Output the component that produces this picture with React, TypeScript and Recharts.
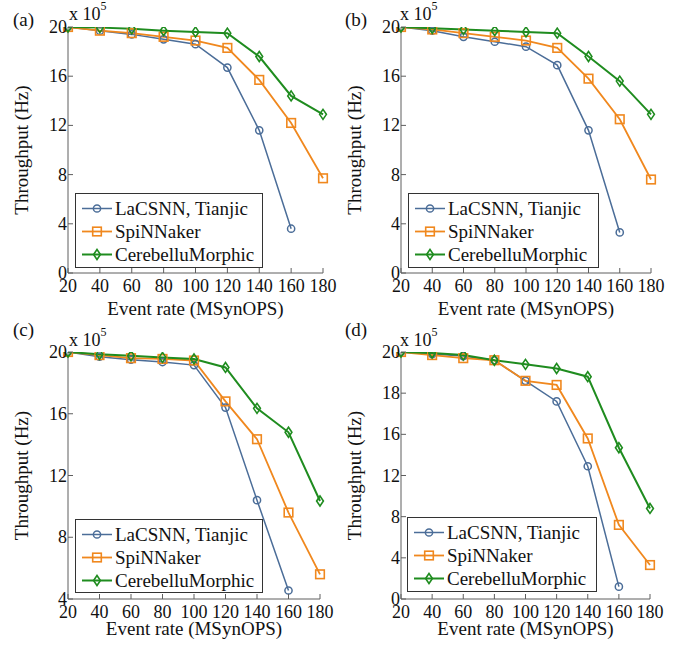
import React from 'react';
import { LineChart, Line, XAxis, YAxis, Legend } from 'recharts';

// Event rate (MSynOPS) on the x axis, throughput in units of 1e5 Hz
const EVENT_RATES = [20, 40, 60, 80, 100, 120, 140, 160, 180];
const SERIES_KEYS = ['lacsnn', 'spinnaker', 'cerebellu'];
const SERIES_NAMES = ['LaCSNN, Tianjic', 'SpiNNaker', 'CerebelluMorphic'];

const A_LACSNN = [20, 19.7, 19.4, 19.0, 18.6, 16.7, 11.6, 3.6];
const A_SPINNAKER = [20, 19.7, 19.5, 19.2, 18.9, 18.3, 15.7, 12.2, 7.7];
const A_CEREBELLU = [20, 19.95, 19.85, 19.7, 19.6, 19.5, 17.6, 14.4, 12.9];

const B_LACSNN = [20, 19.7, 19.2, 18.8, 18.4, 16.9, 11.6, 3.3];
const B_SPINNAKER = [20, 19.8, 19.5, 19.2, 18.9, 18.3, 15.8, 12.5, 7.6];
const B_CEREBELLU = [20, 19.9, 19.8, 19.7, 19.6, 19.5, 17.6, 15.6, 12.9];

const C_LACSNN = [20, 19.7, 19.5, 19.35, 19.15, 16.4, 10.4, 4.55];
const C_SPINNAKER = [20, 19.8, 19.6, 19.55, 19.45, 16.8, 14.35, 9.6, 5.6];
const C_CEREBELLU = [20, 19.85, 19.75, 19.65, 19.55, 19.0, 16.35, 14.8, 10.35];

const D_LACSNN = [20, 19.9, 19.8, 19.6, 18.6, 17.6, 12.9, 1.2];
const D_SPINNAKER = [20, 19.85, 19.7, 19.6, 18.6, 18.4, 15.6, 7.2, 3.3];
const D_CEREBELLU = [20, 19.95, 19.85, 19.6, 19.4, 19.2, 18.8, 14.7, 8.8];

const Y_TICKS_AB = [0, 4, 8, 12, 16, 20];
const Y_TICKS_C = [4, 8, 12, 16, 20];
// panel (d) puts its labels at even spacing even though the steps differ
const Y_TICKS_D = [0, 4, 8, 12, 16, 18, 20];

const FONT = '"Liberation Serif", "Times New Roman", serif';
const TEXT = '#111';
const AXIS = '#5e5e5e';
const TICK_LEN = 5;
const COLORS = ['#4b6d98', '#f0881e', '#1f8c1f'];
const WIDTHS = [1.5, 1.8, 2];
const SHAPES = ['circle', 'square', 'diamond'];

// map a value onto evenly spaced tick slots (piecewise linear)
function toSlot(v: number | undefined, ticks: number[]) {
  if (v == null) return null;
  for (let i = 0; i < ticks.length - 1; i++) {
    if (v <= ticks[i + 1]) return i + (v - ticks[i]) / (ticks[i + 1] - ticks[i]);
  }
  return ticks.length - 1;
}

function buildRows(series: number[][], slotTicks?: number[]) {
  return EVENT_RATES.map((x, i) => {
    const row: Record<string, number | null> = { x };
    SERIES_KEYS.forEach((k, s) => {
      const v = series[s][i];
      row[k] = v == null ? null : slotTicks ? toSlot(v, slotTicks) : v;
    });
    return row;
  });
}

function Marker({ cx, cy, shape, color }: any) {
  if (shape === 'circle')
    return <circle cx={cx} cy={cy} r={3.6} fill="none" stroke={color} strokeWidth={1.5} />;
  if (shape === 'square')
    return <rect x={cx - 4.3} y={cy - 4.3} width={8.6} height={8.6} fill="none" stroke={color} strokeWidth={1.6} />;
  return (
    <polygon
      points={`${cx},${cy - 5} ${cx + 3.4},${cy} ${cx},${cy + 5} ${cx - 3.4},${cy}`}
      fill="none"
      stroke={color}
      strokeWidth={1.6}
    />
  );
}

const dotRenderer = (s: number) => (p: any) => {
  if (p.cx == null || p.cy == null || p.value == null) return <g key={`d${p.index}`} />;
  return <Marker key={`d${p.index}`} cx={p.cx} cy={p.cy} shape={SHAPES[s]} color={COLORS[s]} />;
};

function BottomTick({ x, y, payload }: any) {
  return (
    <g>
      <line x1={x} x2={x} y1={y} y2={y - TICK_LEN} stroke={AXIS} />
      <text x={x} y={y + 19} textAnchor="middle" fontFamily={FONT} fontSize={18} fill={TEXT}>
        {payload.value}
      </text>
    </g>
  );
}

const leftTick = (labels?: number[]) => ({ x, y, payload }: any) => (
  <g>
    <line x1={x} x2={x + TICK_LEN} y1={y} y2={y} stroke={AXIS} />
    <text x={x - 1} y={y + 6} textAnchor="end" fontFamily={FONT} fontSize={18} fill={TEXT}>
      {labels ? labels[payload.value] : payload.value}
    </text>
  </g>
);

const TopTick = ({ x, y }: any) => <line x1={x} x2={x} y1={y} y2={y + TICK_LEN} stroke={AXIS} />;
const RightTick = ({ x, y }: any) => <line x1={x} x2={x - TICK_LEN} y1={y} y2={y} stroke={AXIS} />;

function LegendBox() {
  return (
    <div
      style={{
        width: '100%',
        height: '100%',
        boxSizing: 'border-box',
        border: '1px solid #333',
        background: '#fff',
        paddingTop: 3,
      }}
    >
      {SERIES_NAMES.map((name, s) => (
        <div key={name} style={{ display: 'flex', alignItems: 'center', height: 23 }}>
          <svg width={38} height={23} style={{ flex: 'none' }}>
            <line x1={6} x2={36} y1={11.5} y2={11.5} stroke={COLORS[s]} strokeWidth={WIDTHS[s]} />
            <Marker cx={21} cy={11.5} shape={SHAPES[s]} color={COLORS[s]} />
          </svg>
          <span style={{ fontFamily: FONT, fontSize: 19, color: TEXT, marginLeft: 1, lineHeight: '23px', whiteSpace: 'nowrap' }}>
            {name}
          </span>
        </div>
      ))}
    </div>
  );
}

const PANELS = [
  {
    tag: '(a)', left: 0, top: 0, w: 345, h: 320, plotTop: 27, right: 22, yW: 68, xH: 47,
    rows: buildRows([A_LACSNN, A_SPINNAKER, A_CEREBELLU]), yDomain: [0, 20], yTicks: Y_TICKS_AB,
    legend: { x: 75, y: 193, w: 188, h: 75 }, tagX: 13, tagY: 26, expX: 69, expY: 20, xOff: 5.5, yOff: 21,
  },
  {
    tag: '(b)', left: 344, top: 0, w: 345, h: 320, plotTop: 27, right: 38, yW: 57, xH: 47,
    rows: buildRows([B_LACSNN, B_SPINNAKER, B_CEREBELLU]), yDomain: [0, 20], yTicks: Y_TICKS_AB,
    legend: { x: 64, y: 193, w: 191, h: 75 }, tagX: 1, tagY: 26, expX: 56, expY: 20, xOff: 5.5, yOff: 10,
  },
  {
    tag: '(c)', left: 0, top: 320, w: 345, h: 330, plotTop: 32, right: 25, yW: 68, xH: 51,
    rows: buildRows([C_LACSNN, C_SPINNAKER, C_CEREBELLU]), yDomain: [4, 20], yTicks: Y_TICKS_C,
    legend: { x: 75, y: 199, w: 188, h: 74 }, tagX: 13, tagY: 16, expX: 69, expY: 26, xOff: 15.5, yOff: 21,
  },
  {
    tag: '(d)', left: 344, top: 320, w: 345, h: 330, plotTop: 32, right: 39, yW: 57, xH: 51,
    rows: buildRows([D_LACSNN, D_SPINNAKER, D_CEREBELLU], Y_TICKS_D), yDomain: [0, Y_TICKS_D.length - 1],
    yTicks: Y_TICKS_D.map((_, i) => i), yLabels: Y_TICKS_D,
    legend: { x: 63, y: 197, w: 190, h: 75 }, tagX: 1, tagY: 16, expX: 56, expY: 26, xOff: 15.5, yOff: 10,
  },
];

function Panel({ p }: { p: (typeof PANELS)[number] & { yLabels?: number[] } }) {
  return (
    <div style={{ position: 'absolute', left: p.left, top: p.top, width: p.w, height: p.h }}>
      <LineChart width={p.w} height={p.h} data={p.rows} margin={{ top: p.plotTop, right: p.right, left: 0, bottom: 0 }}>
        <XAxis
          dataKey="x"
          type="number"
          domain={[20, 180]}
          ticks={EVENT_RATES}
          height={p.xH}
          tickSize={0}
          tickMargin={0}
          tick={<BottomTick />}
          axisLine={{ stroke: AXIS }}
          label={{
            value: 'Event rate (MSynOPS)',
            position: 'insideBottom',
            offset: p.xOff,
            style: { fontFamily: FONT, fontSize: 19, fill: TEXT },
          }}
        />
        <XAxis
          xAxisId="top"
          orientation="top"
          dataKey="x"
          type="number"
          domain={[20, 180]}
          ticks={EVENT_RATES}
          height={0}
          tickSize={0}
          tickMargin={0}
          tick={<TopTick />}
          axisLine={{ stroke: AXIS }}
        />
        <YAxis
          type="number"
          domain={p.yDomain}
          ticks={p.yTicks}
          width={p.yW}
          tickSize={0}
          tickMargin={0}
          tick={leftTick(p.yLabels)}
          axisLine={{ stroke: AXIS }}
          allowDataOverflow
          label={{
            value: 'Throughput (Hz)',
            angle: -90,
            position: 'insideLeft',
            offset: p.yOff,
            style: { fontFamily: FONT, fontSize: 19, fill: TEXT, textAnchor: 'middle' },
          }}
        />
        <YAxis
          yAxisId="right"
          orientation="right"
          type="number"
          domain={p.yDomain}
          ticks={p.yTicks}
          width={0}
          tickSize={0}
          tickMargin={0}
          tick={<RightTick />}
          axisLine={{ stroke: AXIS }}
        />
        {SERIES_KEYS.map((k, s) => (
          <Line
            key={k}
            dataKey={k}
            name={SERIES_NAMES[s]}
            stroke={COLORS[s]}
            strokeWidth={WIDTHS[s]}
            dot={dotRenderer(s)}
            activeDot={false}
            isAnimationActive={false}
          />
        ))}
        <Legend
          layout="horizontal"
          verticalAlign="middle"
          align="center"
          wrapperStyle={{ left: p.legend.x, top: p.legend.y, width: p.legend.w, height: p.legend.h }}
          content={() => <LegendBox />}
        />
      </LineChart>
      <svg
        width={p.w}
        height={p.h}
        style={{ position: 'absolute', left: 0, top: 0, pointerEvents: 'none' }}
      >
        <text x={p.tagX} y={p.tagY} fontFamily={FONT} fontSize={19} fill={TEXT}>
          {p.tag}
        </text>
        <text x={p.expX} y={p.expY} fontFamily={FONT} fontSize={18} fill={TEXT}>
          x 10
          <tspan fontSize={12} dy={-10}>5</tspan>
        </text>
      </svg>
    </div>
  );
}

export default function App() {
  return (
    <div style={{ position: 'absolute', left: 0, top: 0, width: 689, height: 650, background: '#fff' }}>
      {PANELS.map((p) => (
        <Panel key={p.tag} p={p} />
      ))}
    </div>
  );
}
